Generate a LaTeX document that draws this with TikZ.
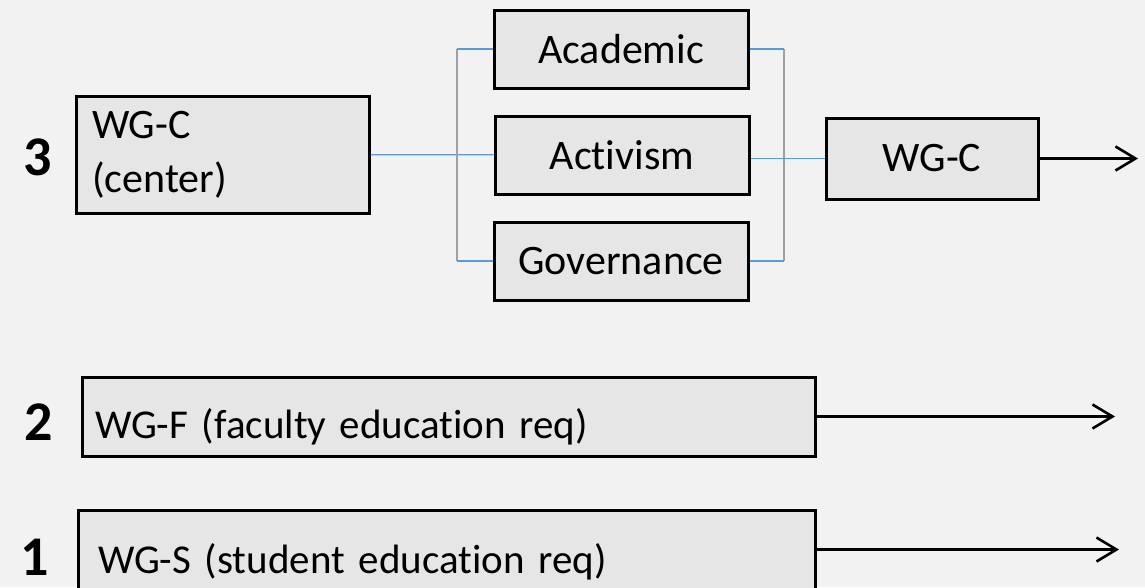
\documentclass[tikz,border=0pt]{standalone}
\usepackage{fontspec}
\setmainfont{Carlito}[Ligatures={NoCommon}, WordSpace=0.75]
\usetikzlibrary{positioning,arrows.meta}

\definecolor{pagegray}{HTML}{F2F2F2}
\definecolor{boxgray}{HTML}{E6E6E6}
\definecolor{linkblue}{HTML}{5B9BD5}
\definecolor{bracketgray}{HTML}{A0A0A0}

\tikzset{
  wg/.style={draw, line width=3pt, fill=boxgray, inner sep=0pt, font=\fontsize{42}{54}\selectfont},
  wgleft/.style={wg, align=left, inner xsep=16pt},
  num/.style={inner sep=0pt, font=\fontsize{56}{60}\selectfont\bfseries},
  link/.style={linkblue, line width=1.2pt},
  bracket/.style={bracketgray, line width=1.2pt},
  flow/.style={line width=2.6pt, -{Straight Barb[length=20pt,width=24pt]}}
}

\begin{document}
\begin{tikzpicture}[x=1pt,y=-1pt]
			\useasboundingbox (0,0) rectangle (1145,587);
			\clip (0,0) rectangle (1145,587);
			\fill[pagegray] (0,0) rectangle (1145,587);
			
			% level 3
			\node[num] (n3) at (38,157) {3};
			\node[wgleft, text width=261pt, minimum height=117pt] (center) at (222.5,154.5) {WG-C\\(center)};
			\node[wg, minimum width=254pt, minimum height=78pt] (academic) at (621,49) {Academic};
			\node[wg, minimum width=254pt, minimum height=78pt] (activism) at (622,155) {Activism};
			\node[wg, minimum width=254pt, minimum height=78pt] (governance) at (621,261) {Governance};
			\node[wg, minimum width=212pt, minimum height=81pt] (wgc) at (932,158.5) {WG-C};
			
			% level 2
			\node[num] (n2) at (39,422) {2};
			\node[wgleft, inner xsep=13pt, text width=707pt, minimum height=79pt, text height=44pt, text depth=0pt, font=\fontsize{41}{54}\selectfont] (wgf) at (448.5,416.5) {WG-F (faculty education req)};
			
			% level 1
			\node[num] (n1) at (35,557) {1};
			\node[wgleft, inner xsep=20pt, text width=697pt, minimum height=79pt, text height=47pt, text depth=0pt, font=\fontsize{41}{54}\selectfont] (wgs) at (446.5,549.5) {WG-S (student education req)};
			
			\coordinate (lsplit) at (457,155);
			\coordinate (rsplit) at (784,158);
			\coordinate (out3) at (1138,158.5);
			\coordinate (out2) at (1115,416.5);
			\coordinate (out1) at (1119,549.5);
			
			% split into the three tracks
			\draw[link] (center) -- (activism);
			\draw[bracket] (lsplit |- academic.west) -- (lsplit |- governance.west);
			\draw[link] (lsplit |- academic.west) -- (academic.west);
			\draw[link] (lsplit |- governance.west) -- (governance.west);
			
			% join again
			\draw[bracket] (rsplit |- academic.east) -- (rsplit |- governance.east);
			\draw[link] (academic.east) -- (rsplit |- academic.east);
			\draw[link] (governance.east) -- (rsplit |- governance.east);
			\draw[link] (activism.east |- wgc.west) -- (wgc.west);
			
			\draw[flow] (wgc) -- (out3);
			\draw[flow] (wgf) -- (out2);
			\draw[flow] (wgs) -- (out1);
\end{tikzpicture}
\end{document}
